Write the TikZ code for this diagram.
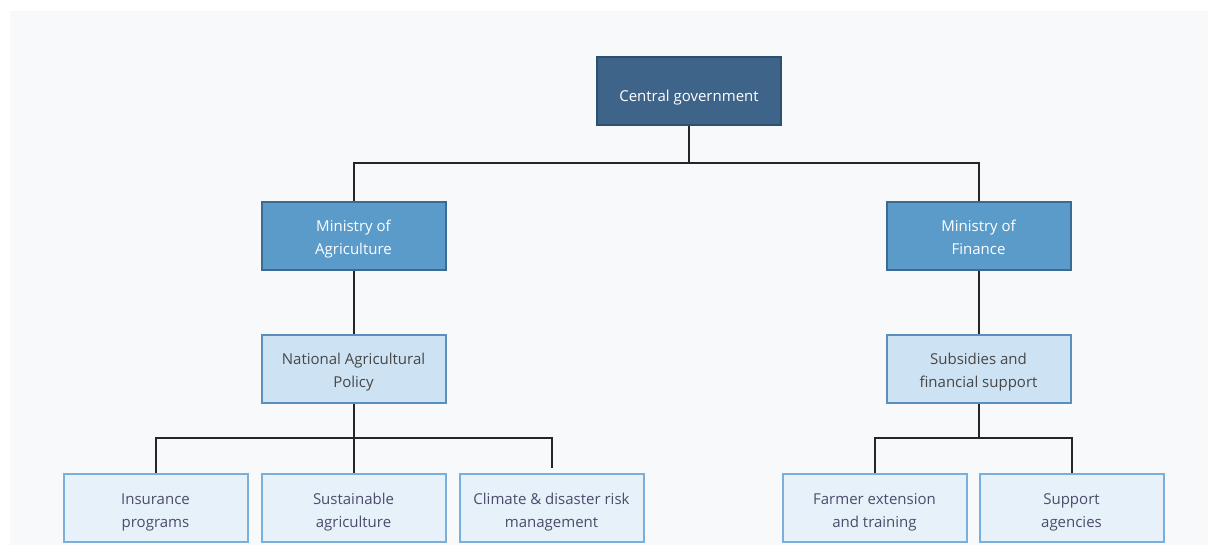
\documentclass[tikz,border=0pt]{standalone}
\usepackage{fontspec}
\setmainfont{Open Sans}
\usetikzlibrary{positioning}
\definecolor{govfill}{HTML}{3E6489}
\definecolor{govline}{HTML}{2F4F6E}
\definecolor{minfill}{HTML}{5B9BCA}
\definecolor{minline}{HTML}{3D6A93}
\definecolor{polfill}{HTML}{CDE2F2}
\definecolor{polline}{HTML}{5B8FC0}
\definecolor{progfill}{HTML}{E6F1FA}
\definecolor{progline}{HTML}{7AAEDB}
\definecolor{canvas}{HTML}{F8F9FB}

\begin{document}
\begin{tikzpicture}[x=1pt, y=1pt, every node/.style={align=center, font=\fontsize{15}{23}\selectfont},
    unit/.style={draw, line width=2pt, minimum width=184pt, minimum height=68pt, inner sep=0pt,
        text height=42pt, text depth=4pt},
    gov/.style={unit, fill=govfill, draw=govline, text=white, text height=25pt},
    ministry/.style={unit, fill=minfill, draw=minline, text=white},
    policy/.style={unit, fill=polfill, draw=polline, text=black!72},
    program/.style={unit, fill=progfill, draw=progline, text=black!70!blue!40!gray},
    link/.style={line width=2pt, black!85}]
    \useasboundingbox (0,0) rectangle (1208,-545);
    \fill[canvas] (10,-11) rectangle (1208,-545);

    % top level
    \node (gov) [gov] at (689,-91.5) {Central government};

    % ministries
    \node (agri) [ministry] at (353.5,-236) {Ministry of\\Agriculture};
    \node (fin) [ministry] at (978.5,-236) {Ministry of\\Finance};

    % policy level
    \node (nap) [policy, below=63pt of agri] {National Agricultural\\Policy};
    \node (subs) [policy, below=63pt of fin] {Subsidies and\\financial support};

    % programmes under agriculture
    \node (sust) [program, below=69pt of nap] {Sustainable\\agriculture};
    \node (ins) [program, left=12pt of sust] {Insurance\\programs};
    \node (clim) [program, right=12pt of sust] {Climate \& disaster risk\\management};

    % programmes under finance
    \node (farm) [program, below left=69pt and -82pt of subs] {Farmer extension\\and training};
    \node (supp) [program, right=11pt of farm] {Support\\agencies};

    % connectors
    \draw[link] (gov.south) -- ++(0,-37) -| (agri.north);
    \draw[link] (gov.south) -- ++(0,-37) -| (fin.north);
    \draw[link] (agri) -- (nap);
    \draw[link] (fin) -- (subs);
    \draw[link] (nap.south) -- ++(0,-34) -| (ins.north);
    \draw[link] (nap) -- (sust);
    \draw[link, shorten >=5pt] (nap.south) -- ++(0,-34) -| (clim.north);
    \draw[link] (subs.south) -- ++(0,-34) -| (farm.north);
    \draw[link] (subs.south) -- ++(0,-34) -| (supp.north);
\end{tikzpicture}
\end{document}
